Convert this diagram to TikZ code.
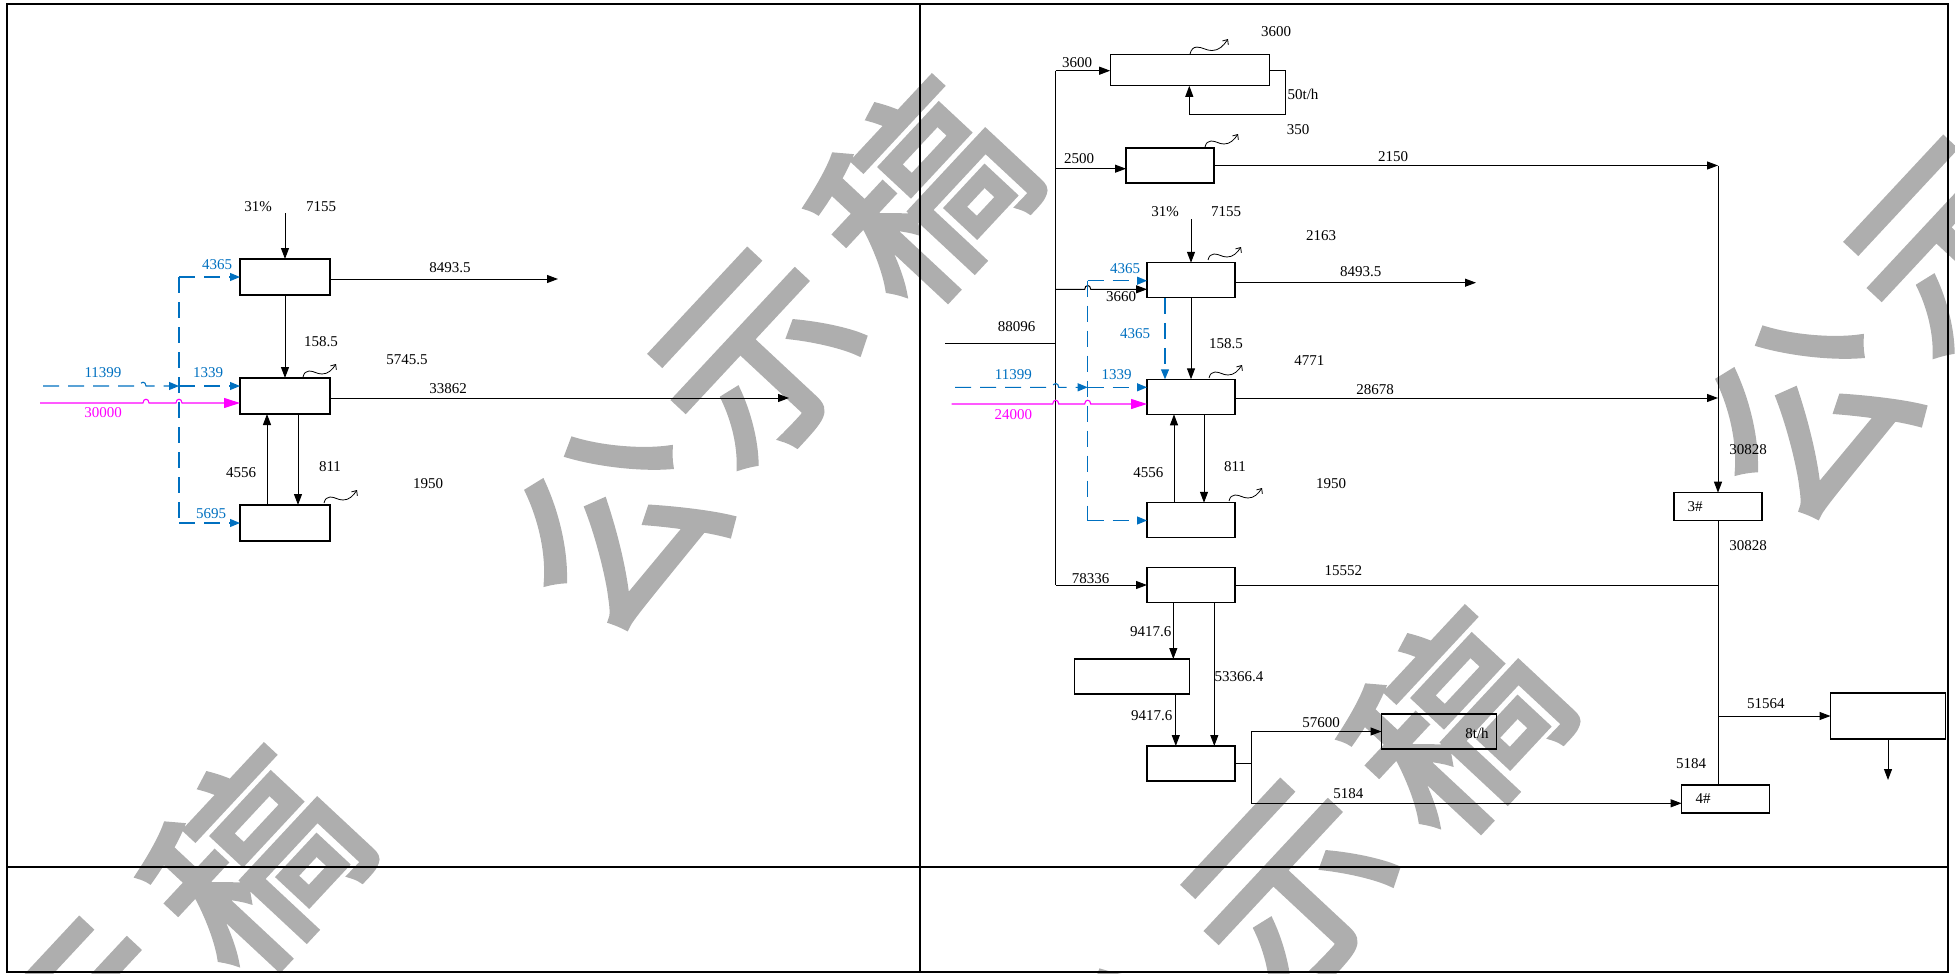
\documentclass[tikz,border=0pt]{standalone}
\usepackage{fontspec}
\setmainfont{Liberation Serif}
\newfontfamily\cjk[FakeBold=3]{Noto Sans CJK SC}
\usetikzlibrary{arrows.meta}
\definecolor{bl}{RGB}{0,112,192}
\definecolor{mg}{RGB}{255,0,255}
\definecolor{wm}{RGB}{174,174,174}
\newcommand\wavy[3][1]{\draw[wv,shift={(#2,#3)},scale=#1] (0,0) .. controls (1,-4) and (3,-6) .. (6,-6) .. controls (11,-6) and (14,-3) .. (19,-3) .. controls (25,-3) and (29,-7) .. (33,-13);}
\begin{document}
\begin{tikzpicture}[x=1pt,y=-1pt,
  box/.style={draw, line width=1.05pt, inner sep=0pt, outer sep=0pt},
  ln/.style={line width=1pt},
  arr/.style={ln, -{Triangle[length=11pt,width=8pt]}},
  bdash/.style={bl, line width=1.1pt, dash pattern=on 16pt off 9pt},
  barr/.style={bdash, -{Triangle[length=10pt,width=8pt]}},
  marr/.style={mg, line width=1.1pt, -{Triangle[length=16pt,width=10pt]}},
  lbl/.style={inner sep=0pt, font=\fontsize{15}{18}\selectfont},
  blbl/.style={lbl, text=bl},
  mlbl/.style={lbl, text=mg},
  wv/.style={line width=0.8pt, -{Straight Barb[length=4pt,width=7pt]}},
  wmk/.style={text=wm, font=\cjk\fontsize{200}{200}\selectfont, rotate=47, inner sep=0pt}
]
\useasboundingbox (0,0) rectangle (1955,974);
% watermark
\begin{scope}
\clip (0,0) rectangle (1955,974);
\node[wmk] (w1a) at (616,525) {公};
\node[wmk] (w1b) at (761,360) {示};
\node[wmk] (w1c) at (922,192) {稿};
\node[wmk] (w2b) at (93,1029) {示};
\node[wmk] (w2c) at (254,861) {稿};
\node[wmk] (w3a) at (1144,1057) {公};
\node[wmk] (w3b) at (1294,891) {示};
\node[wmk] (w3c) at (1455,723) {稿};
\node[wmk] (w4a) at (1807,414) {公};
\node[wmk] (w4b) at (1957,248) {示};
\end{scope}
% frame
\draw[line width=2.5pt] (7,4) rectangle (1948,972);
\draw[line width=2.5pt] (920,4) -- (920,972);
\draw[line width=2.5pt] (7,867) -- (1948,867);

% ===== left panel =====
\node[box, line width=1.7pt, minimum width=90pt, minimum height=36pt] (L1) at (285,277) {};
\node[box, minimum width=90pt, minimum height=36pt] (L2) at (285,396) {};
\node[box, minimum width=90pt, minimum height=36pt] (L3) at (285,523) {};

\node[lbl] (t1) at (258,207) {31\%};
\node[lbl] (t2) at (321,207) {7155};
\node[blbl] (t3) at (217,265) {4365};
\node[lbl] (t4) at (450,268) {8493.5};
\node[lbl] (t5) at (321,342) {158.5};
\node[lbl] (t6) at (407,360) {5745.5};
\node[blbl] (t7) at (103,373) {11399};
\node[blbl] (t8) at (208,373) {1339};
\node[mlbl] (t9) at (103,413) {30000};
\node[lbl] (t10) at (448,389) {33862};
\node[lbl] (t11) at (241,473) {4556};
\node[lbl] (t12) at (330,467) {811};
\node[lbl] (t13) at (428,484) {1950};
\node[blbl] (t14) at (211,514) {5695};

\coordinate (l7155) at (285,213);
\draw[arr] (l7155) -- (L1.north);
\coordinate (l8493) at (558,279);
\draw[arr] (L1.east |- l8493) -- (l8493);
\draw[arr] (L1.south) -- (L2.north);
\coordinate (lbv1) at (179,277);
\coordinate (lbv2) at (179,523);
\draw[bdash] (lbv1) -- (lbv2);
\draw[barr] (lbv1) -- (lbv1 -| L1.west);
\draw[barr] (lbv2) -- (lbv2 -| L3.west);
\coordinate (lb0) at (43,386);
\coordinate (lbj) at (179,386);
\draw[barr] (lb0) -- (140,386) .. controls (140,381) and (146,381) .. (146,386) -- (lbj);
\draw[barr] (lbj) -- (lbj -| L2.west);
\coordinate (lm0) at (40,403);
\draw[marr] (lm0) -- (143,403) .. controls (143,398) and (149,398) .. (149,403) -- (176,403) .. controls (176,398) and (182,398) .. (182,403) -- (lm0 -| L2.west);
\coordinate (l3386) at (789,398);
\draw[arr] (L2.east |- l3386) -- (l3386);
\draw[arr] ([xshift=-18pt]L3.north) -- ([xshift=-18pt]L2.south);
\draw[arr] ([xshift=13pt]L2.south) -- ([xshift=13pt]L3.north);
\wavy{303}{377}
\wavy{324}{503}

% ===== right panel =====
\node[box, minimum width=159pt, minimum height=31pt] (A) at (1189.7,70.3) {};
\node[box, minimum width=88pt, minimum height=35pt] (B) at (1170,165.5) {};
\node[box, minimum width=88pt, minimum height=35pt] (C) at (1191,280.3) {};
\node[box, minimum width=88pt, minimum height=35pt] (D) at (1191,396.8) {};
\node[box, minimum width=88pt, minimum height=35pt] (Db) at (1191,520.3) {};
\node[box, minimum width=88pt, minimum height=35pt] (E) at (1191,585) {};
\node[box, minimum width=115pt, minimum height=35pt] (H) at (1131.8,676.5) {};
\node[box, minimum width=88pt, minimum height=35pt] (I) at (1191,763.5) {};
\node[box, minimum width=115pt, minimum height=35pt] (G) at (1439,731.5) {};
\node[box, minimum width=88pt, minimum height=28pt] (S3) at (1718,506.7) {};
\node[box, minimum width=88pt, minimum height=28pt] (S4) at (1725.6,799) {};
\node[box, minimum width=115pt, minimum height=46pt] (F) at (1888,716) {};

\node[lbl] (s3t) at (1695,507) {3\#};
\node[lbl] (s4t) at (1703,799) {4\#};
\node[lbl] (gt) at (1477,733) {8t/h};

\node[lbl] (r1) at (1077,62.7) {3600};
\node[lbl] (r2) at (1276,31.7) {3600};
\node[lbl] (r3) at (1303,94) {50t/h};
\node[lbl] (r4) at (1298,130) {350};
\node[lbl] (r5) at (1079,158.7) {2500};
\node[lbl] (r6) at (1393,157) {2150};
\node[lbl] (r7) at (1165,212) {31\%};
\node[lbl] (r8) at (1226,212) {7155};
\node[lbl] (r9) at (1321,236) {2163};
\node[blbl] (r10) at (1125,268.7) {4365};
\node[lbl] (r11) at (1360.7,271.7) {8493.5};
\node[lbl] (r12) at (1121,296.7) {3660};
\node[lbl] (r13) at (1016.7,326.7) {88096};
\node[blbl] (r14) at (1135,333.3) {4365};
\node[lbl] (r15) at (1226,343.3) {158.5};
\node[lbl] (r16) at (1309.3,361) {4771};
\node[blbl] (r17) at (1013.3,375) {11399};
\node[blbl] (r18) at (1116.7,375) {1339};
\node[mlbl] (r19) at (1013.3,414.3) {24000};
\node[lbl] (r20) at (1375,390) {28678};
\node[lbl] (r21) at (1748,450) {30828};
\node[lbl] (r22) at (1148.3,472.3) {4556};
\node[lbl] (r23) at (1235,466.7) {811};
\node[lbl] (r24) at (1331,483.3) {1950};
\node[lbl] (r25) at (1748,546) {30828};
\node[lbl] (r26) at (1343.3,571) {15552};
\node[lbl] (r27) at (1090.7,579) {78336};
\node[lbl] (r28) at (1150.7,631.7) {9417.6};
\node[lbl] (r29) at (1239,676.7) {53366.4};
\node[lbl] (r30) at (1765.8,703.3) {51564};
\node[lbl] (r31) at (1151.7,715.7) {9417.6};
\node[lbl] (r32) at (1321,722.7) {57600};
\node[lbl] (r33) at (1691,763.3) {5184};
\node[lbl] (r34) at (1348.3,794) {5184};

% trunk
\coordinate (tA) at (1055.7,70.7);
\coordinate (tB) at (1055.7,168.7);
\coordinate (tC) at (1055.7,289.3);
\coordinate (t88) at (1055.7,343.3);
\coordinate (tE) at (1055.7,585);
\coordinate (in88) at (945,343.3);
\draw[ln] (tA) -- (tE);
\draw[ln] (in88) -- (t88);
\draw[arr] (tA) -- (tA -| A.west);
\draw[arr] (tB) -- (tB -| B.west);
\draw[arr] (tC) -- (1084.7,289.3) .. controls (1084.7,284.3) and (1090.7,284.3) .. (1090.7,289.3) -- (tC -| C.west);
\draw[arr] (tE) -- (tE -| E.west);
% A loop
\coordinate (a2) at (1285.3,114.3);
\coordinate (a3) at (1189.3,114.3);
\draw[arr] (A.east) -| (a2) -- (a3) -- (a3 |- A.south);
\wavy[1.15]{1190}{54}
% B
\coordinate (c3) at (1718,165.5);
\draw[arr] (B.east) -- (c3);
\draw[arr] (c3) -- (S3.north);
\wavy{1205}{147}
% C
\coordinate (r7155) at (1191,219);
\draw[arr] (r7155) -- (C.north);
\coordinate (r8493) at (1476,282.7);
\draw[arr] (C.east |- r8493) -- (r8493);
\coordinate (rbv1) at (1087.7,280.7);
\coordinate (rbv2) at (1087.7,520.5);
\draw[bdash] (rbv1) -- (rbv2);
\draw[barr] (rbv1) -- (rbv1 -| C.west);
\draw[barr] (rbv2) -- (rbv2 -| Db.west);
\draw[barr] ([xshift=-26pt]C.south) -- ([xshift=-26pt]D.north);
\draw[arr] (C.south) -- (D.north);
\wavy{1208}{260}
% D
\coordinate (rb0) at (955,387.3);
\coordinate (rbj) at (1087.7,387.3);
\draw[barr] (rb0) -- (1052.7,387.3) .. controls (1052.7,382.3) and (1058.7,382.3) .. (1058.7,387.3) -- (rbj);
\draw[barr] (rbj) -- (rbj -| D.west);
\coordinate (rm0) at (951.7,404);
\draw[marr] (rm0) -- (1052.7,404) .. controls (1052.7,399) and (1058.7,399) .. (1058.7,404) -- (1084.7,404) .. controls (1084.7,399) and (1090.7,399) .. (1090.7,404) -- (rm0 -| D.west);
\coordinate (c28) at (1718,398);
\draw[arr] (D.east |- c28) -- (c28);
\draw[arr] ([xshift=-17pt]Db.north) -- ([xshift=-17pt]D.south);
\draw[arr] ([xshift=13pt]D.south) -- ([xshift=13pt]Db.north);
\wavy{1209}{378}
\wavy{1229}{501}
% E and below
\coordinate (c15) at (1718,585.7);
\draw[ln] (E.east |- c15) -- (c15);
\draw[ln] (S3.south) -- (S3.south |- S4.north);
\coordinate (c51) at (1718,716);
\draw[arr] (c51) -- (F.west);
\coordinate (fout) at (1888,780);
\draw[arr] (F.south) -- (fout);
\draw[arr] ([xshift=-17.7pt]E.south) -- ([xshift=-17.7pt]E.south |- H.north);
\draw[arr] ([xshift=23.3pt]E.south) -- ([xshift=23.3pt]I.north);
\draw[arr] ([xshift=44pt]H.south) -- ([xshift=44pt]H.south |- I.north);
\coordinate (isp) at (1251,763.5);
\coordinate (iu) at (1251,731.5);
\coordinate (idn) at (1251,803.3);
\draw[ln] (I.east) -- (isp);
\draw[ln] (iu) -- (idn);
\draw[arr] (iu) -- (G.west);
\draw[arr] (idn) -- (idn -| S4.west);
\end{tikzpicture}
\end{document}
